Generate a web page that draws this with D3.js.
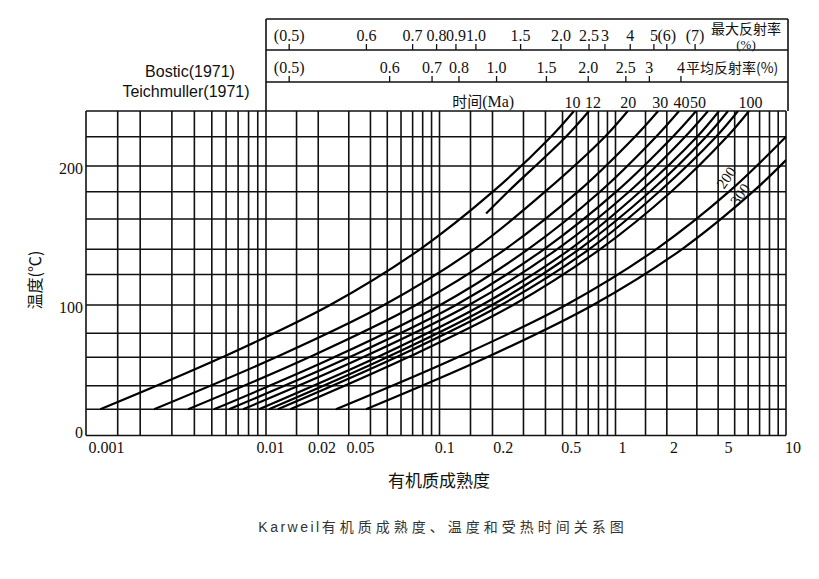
<!DOCTYPE html>
<html><head><meta charset="utf-8">
<script src="https://cdn.jsdelivr.net/npm/d3@7"></script>
<style>body{margin:0;background:#fff}svg{display:block}</style>
</head><body><svg id="c" width="819" height="579"></svg>
<script>
// ---------- data ----------
const tempGrid = [0,20,40,60,80,100,120,140,160,180,200,220,240];
const gridMantissa = [1,1.5,2,3,4,5,6,7,8,9];
const gridDecades = [0.001,0.01,0.1,1];
const xTickLabels = ["0.001","0.01","0.02","0.05","0.1","0.2","0.5","1","2","5","10"];
const xTickLabelAt = [0.0013,0.0106,0.021,0.035,0.107,0.23,0.56,1.1,2.2,4.6,11];
const yTickLabels = [0,100,200];

// maturity read at these temperatures (°C)
const temps = [20,60,100,140,180,220,240];
const c10  = [0.0012,0.0057,0.0234,0.0772,0.201,0.430,0.581];
const t12  = [164,180,220,240];
const c12  = [0.184,0.245,0.523,0.707];
const c20  = [0.00239,0.0114,0.0479,0.157,0.398,0.871,1.18];
const c30  = [0.00369,0.0177,0.0732,0.236,0.612,1.30,1.78];
const c40  = [0.00514,0.0247,0.101,0.318,0.816,1.73,2.36];
const c50  = [0.00623,0.0301,0.124,0.392,1.01,2.17,2.97];
const c60  = [0.00745,0.0362,0.147,0.465,1.20,2.56,3.49];
const c70  = [0.00914,0.0436,0.174,0.551,1.39,3.01,4.05];
const c80  = [0.0104,0.0498,0.199,0.620,1.59,3.40,4.57];
const c90  = [0.0117,0.0562,0.224,0.707,1.80,3.89,5.23];
const c100 = [0.0138,0.0658,0.262,0.816,2.12,4.51,6.07];
const t200 = [20,60,100,140,180,220];
const c200 = [0.0253,0.127,0.523,1.73,4.63,10];
const t300 = [20,60,100,140,180,204];
const c300 = [0.0377,0.186,0.745,2.45,6.40,10];

const timeLabels = ["10","12","20","30","40","50","60","70","80","90","100","200","300"];
const showTopLabel = [true,true,true,true,true,true,false,false,false,false,true,false,false];
const topLabelDx   = [-1.5,4,0.5,2,2.5,2,0,0,0,0,1.5,0,0];
// labels written along the 200 / 300 curves: [temperature, maturity]
const sideLabelPos = {"200":[191,4.45],"300":[178,5.37]};

// reflectance header rows: label, equivalent maturity
const roMaxLabels = ["(0.5)","0.6","0.7","0.8","0.9","1.0","1.5","2.0","2.5","3","4","5","(6)","(7)"];
const roMaxAt     = [0.0136,0.0379,0.0700,0.0962,0.124,0.161,0.289,0.490,0.707,0.871,1.22,1.68,2.00,2.93];
const roMeanLabels = ["(0.5)","0.6","0.7","0.8","1.0","1.5","2.0","2.5","3","4"];
const roMeanAt     = [0.0136,0.0516,0.0906,0.129,0.211,0.405,0.700,1.15,1.58,2.42];

// ---------- build ----------
const curves = [
  {t:temps,m:c10},{t:t12,m:c12},{t:temps,m:c20},{t:temps,m:c30},{t:temps,m:c40},
  {t:temps,m:c50},{t:temps,m:c60},{t:temps,m:c70},{t:temps,m:c80},{t:temps,m:c90},
  {t:temps,m:c100},{t:t200,m:c200},{t:t300,m:c300}
].map((c,i)=>({label:timeLabels[i],top:showTopLabel[i],dx:topLabelDx[i],
               pts:c.t.map((tt,j)=>[tt,c.m[j]])}));

const svg = d3.select("#c");
const x = d3.scaleLog().domain([0.001,0.01,0.1,1,10]).range([86,266,439.5,615.5,786]);
const y = d3.scaleLinear().domain(tempGrid)
  .range([435.5,409.3,385.7,357.3,333.3,305,274.5,249.3,219,191.7,166,136.7,111]);

const serif = "'Liberation Serif','Times New Roman',serif";
const cjk = "'Noto Sans CJK SC','Noto Sans',sans-serif";
const ink = "#111";

const xGrid = gridDecades.flatMap(d => gridMantissa.map(m => m*d)).concat([10]);
const [x0,x1] = [x(0.001), x(10)];
const [yb,yt] = [y(0), y(240)];

const grid = svg.append("g").attr("stroke",ink).attr("stroke-width",1.6);
grid.selectAll("line.v").data(xGrid).join("line")
  .attr("x1",d=>x(d)).attr("x2",d=>x(d)).attr("y1",yb).attr("y2",yt);
grid.selectAll("line.h").data(tempGrid).join("line")
  .attr("x1",x0).attr("x2",x1).attr("y1",d=>y(d)).attr("y2",d=>y(d));

// header box
const hx0 = x(0.01), hx1 = x1 + 2;
const rowTop = 19, row1 = 50, row2 = 82;
const hdr = svg.append("g").attr("stroke",ink).attr("stroke-width",1.6);
[rowTop,row1,row2].forEach(v=>hdr.append("line").attr("x1",hx0).attr("x2",hx1).attr("y1",v).attr("y2",v));
hdr.append("line").attr("x1",hx0).attr("x2",hx0).attr("y1",rowTop).attr("y2",yt);
hdr.append("line").attr("x1",hx1).attr("x2",hx1).attr("y1",rowTop).attr("y2",yt);

function rowTicks(labels, at, yBase){
  const g = svg.append("g");
  g.selectAll("line").data(at).join("line")
    .attr("x1",d=>x(d)).attr("x2",d=>x(d)).attr("y1",yBase).attr("y2",yBase-6)
    .attr("stroke",ink).attr("stroke-width",1.3);
  g.selectAll("text").data(labels).join("text")
    .attr("x",(d,i)=>x(at[i])).attr("y",yBase-9)
    .attr("text-anchor","middle").attr("font-family",serif).attr("font-size",16)
    .attr("fill",ink).text(d=>d);
}
rowTicks(roMaxLabels, roMaxAt, row1);
rowTicks(roMeanLabels, roMeanAt, row2);

svg.append("text").attr("x",746).attr("y",34).attr("text-anchor","middle")
  .attr("font-family",cjk).attr("font-size",14).attr("fill",ink).text("最大反射率");
svg.append("text").attr("x",746).attr("y",48.5).attr("text-anchor","middle")
  .attr("font-family",serif).attr("font-size",13).attr("fill",ink).text("(%)");
svg.append("text").attr("x",x(2.42)+5).attr("y",row2-9).attr("text-anchor","start")
  .attr("font-family",cjk).attr("font-size",14).attr("fill",ink).text("平均反射率(%)");

svg.append("text").attr("x",x(0.177)).attr("y",107).attr("text-anchor","middle")
  .attr("font-family",cjk).attr("font-size",15).attr("fill",ink)
  .html('时间<tspan font-family="Liberation Serif, Times New Roman, serif" font-size="16">(Ma)</tspan>');

svg.append("text").attr("x",190).attr("y",77).attr("text-anchor","middle")
  .attr("font-family","'Liberation Sans',Arial,sans-serif").attr("font-size",16).attr("fill",ink).text("Bostic(1971)");
svg.append("text").attr("x",186).attr("y",97).attr("text-anchor","middle")
  .attr("font-family","'Liberation Sans',Arial,sans-serif").attr("font-size",16).attr("fill",ink).text("Teichmuller(1971)");

// curves
svg.append("clipPath").attr("id","plot").append("rect")
  .attr("x",x0).attr("y",yt).attr("width",x1-x0).attr("height",yb-yt);
const line = d3.line().x(d=>x(d[1])).y(d=>y(d[0])).curve(d3.curveCatmullRom.alpha(0.5));
svg.append("g").attr("clip-path","url(#plot)")
  .selectAll("path").data(curves).join("path")
  .attr("d",d=>line(d.pts)).attr("fill","none").attr("stroke","#000").attr("stroke-width",2.2);

// time labels above curve tops
svg.append("g").selectAll("text").data(curves.filter(c=>c.top)).join("text")
  .attr("x",d=>x(d.pts[d.pts.length-1][1])+d.dx).attr("y",108)
  .attr("text-anchor","middle").attr("font-family",serif).attr("font-size",16)
  .attr("fill",ink).text(d=>d.label);

Object.entries(sideLabelPos).forEach(([k,p])=>{
  svg.append("text").attr("transform",`translate(${x(p[1])},${y(p[0])}) rotate(-55)`)
    .attr("text-anchor","middle").attr("dy","0.35em").attr("font-family",serif)
    .attr("font-size",15).attr("fill",ink).text(k);
});

// axes labels
svg.append("g").selectAll("text").data(xTickLabels).join("text")
  .attr("x",(d,i)=>x(xTickLabelAt[i])).attr("y",453).attr("text-anchor","middle")
  .attr("font-family",serif).attr("font-size",16).attr("fill",ink).text(d=>d);
svg.append("g").selectAll("text").data(yTickLabels).join("text")
  .attr("x",83).attr("y",d=>y(d)+ (d===0?2:8)).attr("text-anchor","end")
  .attr("font-family",serif).attr("font-size",16).attr("fill",ink).text(d=>d);

svg.append("text").attr("x",439).attr("y",487).attr("text-anchor","middle")
  .attr("font-family",cjk).attr("font-size",17).attr("fill",ink).text("有机质成熟度");
svg.append("text").attr("transform","translate(41,280) rotate(-90)")
  .attr("text-anchor","middle").attr("font-family",cjk).attr("font-size",16).attr("fill",ink)
  .text("温度(℃)");

const cap = svg.append("text").attr("x",443).attr("y",532).attr("text-anchor","middle")
  .attr("font-family",cjk).attr("font-size",14).attr("fill","#333");
cap.append("tspan").attr("font-family","'Liberation Sans',sans-serif").attr("letter-spacing",2.5).text("Karweil");
cap.append("tspan").attr("letter-spacing",4).text("有机质成熟度、温度和受热时间关系图");
</script></body></html>
